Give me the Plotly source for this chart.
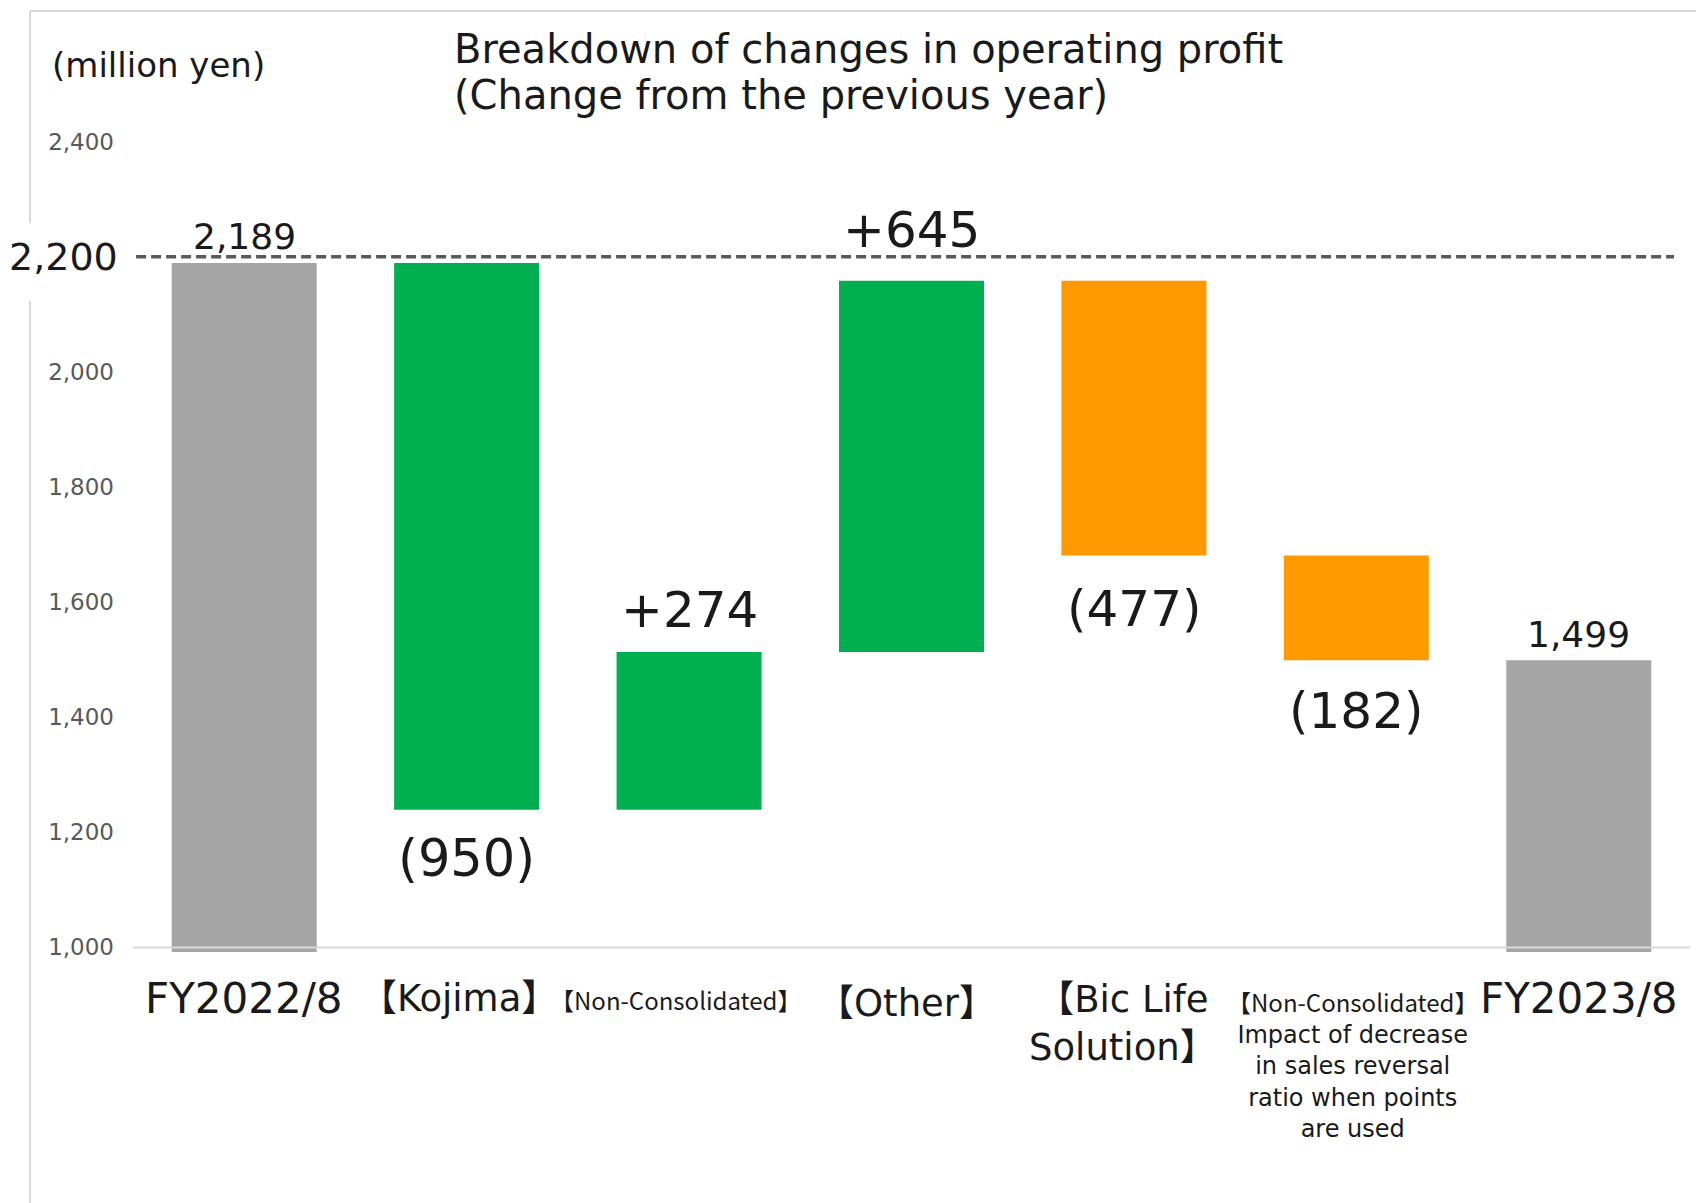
import plotly.graph_objects as go

# ---------------- data ----------------
categories = ["FY2022/8", "Kojima", "Non-Consolidated", "Other",
              "Bic Life Solution", "Non-Consolidated (points)", "FY2023/8"]
start_value = 2189
changes = [-950, 274, 645, -477, -182]
end_value = 1499
bar_colors = ["#A5A5A5", "#00B050", "#00B050", "#00B050",
              "#FF9900", "#FF9900", "#A5A5A5"]
value_labels = ["2,189", "(950)", "+274", "+645", "(477)", "(182)", "1,499"]
y_tickvals = [1000, 1200, 1400, 1600, 1800, 2000, 2400]
y_ticktext = ["1,000", "1,200", "1,400", "1,600", "1,800", "2,000", "2,400"]
ref_line_value = 2200
x_labels_main = ["FY2022/8", "【Kojima】", "【Non-Consolidated】", "【Other】",
                 "【Bic Life<br>Solution】", "", "FY2023/8"]
x_label_note = ("<span style='font-family:Noto Sans CJK JP;font-size:24px'>【Non-Consolidated】</span><br>"
                "Impact of decrease<br>in sales reversal<br>ratio when points<br>are used")
title_lines = ["Breakdown of changes in operating profit", "(Change from the previous year)"]
unit_text = "(million yen)"

# ---------------- layout geometry ----------------
W, H = 1696, 1203
ML, MR, MT, MB = 133, 6, 130, 251
PW, PH = W - ML - MR, H - MT - MB
FONT = "DejaVu Sans, Noto Sans CJK JP, sans-serif"
FONT_NARROW = "Noto Sans CJK JP, sans-serif"
TXT = "#1a1a1a"


def px_x(p):
    return (p - ML) / PW


def px_y(p):
    return (H - MB - p) / PH


# waterfall bases / heights
bases, heights = [0], [start_value]
running = start_value
for c in changes:
    new = running + c
    bases.append(min(running, new))
    heights.append(abs(c))
    running = new
bases.append(0)
heights.append(end_value)
xs = list(range(len(categories)))

fig = go.Figure()
fig.add_trace(go.Bar(
    x=xs, y=heights, base=bases, width=0.652,
    marker=dict(color=bar_colors, line=dict(width=0)),
    hoverinfo="skip", showlegend=False,
))

annotations = []
# value labels (above for totals & increases, below for decreases)
label_font_sizes = [36, 51, 50, 50, 50, 50, 36]
label_shifts = [26, -49, 42, 51, -54, -51, 26]
for i in xs:
    is_total = i in (0, len(xs) - 1)
    if is_total:
        yv = heights[i]
    else:
        c = changes[i - 1]
        yv = bases[i] + heights[i] if c > 0 else bases[i]
    annotations.append(dict(
        x=i, y=yv, xref="x", yref="y", text=value_labels[i], showarrow=False,
        yanchor="middle", yshift=label_shifts[i],
        font=dict(family=FONT, size=label_font_sizes[i], color=TXT),
    ))

# category labels
x_fonts = [FONT, FONT, FONT_NARROW, FONT, FONT, FONT, FONT]
x_font_sizes = [42, 37, 24, 37, 37, 37, 42]
x_shifts = [0, -8, -14, -5, -11, -4, 0]
y_centers = [998, 998, 999, 1003, 1024, 999, 998]
for i in xs:
    if not x_labels_main[i]:
        continue
    annotations.append(dict(
        x=i, y=px_y(y_centers[i]), xref="x", yref="paper",
        text=x_labels_main[i], showarrow=False, xanchor="center", yanchor="middle",
        xshift=x_shifts[i],
        font=dict(family=x_fonts[i], size=x_font_sizes[i], color=TXT),
    ))
annotations.append(dict(
    x=5, y=px_y(1063), xref="x", yref="paper", text=x_label_note,
    showarrow=False, xanchor="center", yanchor="middle", xshift=-4, align="center",
    font=dict(family=FONT, size=24, color=TXT),
))

# title (two lines, tighter spacing) and unit
for line, yc in zip(title_lines, [49, 95.5]):
    annotations.append(dict(
        x=px_x(452), y=px_y(yc), xref="paper", yref="paper", text=line,
        showarrow=False, xanchor="left", yanchor="middle", align="left",
        font=dict(family=FONT, size=40, color=TXT),
    ))
annotations.append(dict(
    x=px_x(50), y=px_y(65), xref="paper", yref="paper", text=unit_text,
    showarrow=False, xanchor="left", yanchor="middle",
    font=dict(family=FONT, size=34, color=TXT),
))
# big 2,200 label
annotations.append(dict(
    x=px_x(120), y=ref_line_value, xref="paper", yref="y", text="2,200",
    showarrow=False, xanchor="right", yanchor="middle",
    font=dict(family=FONT, size=38, color=TXT),
))

shapes = [
    # baseline at 1,000
    dict(type="line", xref="paper", yref="y", x0=0, x1=1, y0=1000, y1=1000,
         line=dict(color="#D9D9D9", width=2), layer="above"),
    # dashed reference line
    dict(type="line", xref="paper", yref="y", x0=0.002, x1=px_x(1674),
         y0=ref_line_value, y1=ref_line_value,
         line=dict(color="#595959", width=3.5, dash="10px,5px"), layer="above"),
    # frame: top line
    dict(type="line", xref="paper", yref="paper", x0=px_x(30), x1=px_x(1696),
         y0=px_y(11), y1=px_y(11), line=dict(color="#D9D9D9", width=2)),
    # frame: left line (with gap around 2,200 label)
    dict(type="line", xref="paper", yref="paper", x0=px_x(30), x1=px_x(30),
         y0=px_y(11), y1=px_y(223), line=dict(color="#D9D9D9", width=2)),
    dict(type="line", xref="paper", yref="paper", x0=px_x(30), x1=px_x(30),
         y0=px_y(301), y1=px_y(1203), line=dict(color="#D9D9D9", width=2)),
]

fig.update_layout(
    width=W, height=H, autosize=False,
    margin=dict(l=ML, r=MR, t=MT, b=MB, pad=0),
    paper_bgcolor="white", plot_bgcolor="white",
    font=dict(family=FONT),
    annotations=annotations, shapes=shapes,
    xaxis=dict(range=[-0.5, 6.5], showticklabels=False, showgrid=False,
               zeroline=False, showline=False, ticks="", fixedrange=True),
    yaxis=dict(range=[992, 2420], tickvals=y_tickvals, ticktext=y_ticktext,
               showgrid=False, zeroline=False, showline=False, ticks="",
               ticklabelstandoff=18,
               tickfont=dict(family=FONT, size=23, color="#595959")),
    bargap=0.3,
)

fig.write_html("out.html")
